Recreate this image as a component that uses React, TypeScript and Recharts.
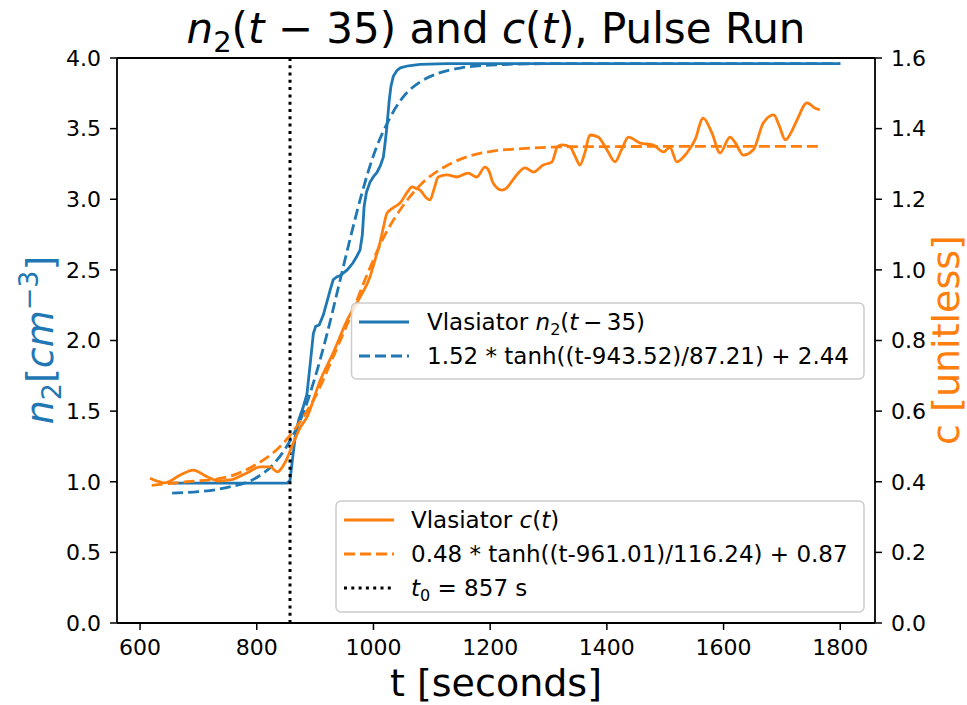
import React from "react";
import { ComposedChart, Line, XAxis, YAxis, ReferenceLine } from "recharts";

// Vlasiator n2(t-35), left axis [cm^-3]
const n2Times = [655, 700, 750, 800, 840, 852, 857, 861, 866, 872, 879, 886, 892, 897, 901, 907, 914, 920, 926, 931, 937, 943, 955, 965, 972, 977, 981, 984, 988, 994, 1000, 1006, 1012, 1017, 1020, 1023, 1027, 1030, 1034, 1040, 1046, 1060, 1080, 1126, 1200, 1300, 1400, 1500, 1600, 1700, 1800];
const n2Values = [0.99, 0.99, 0.99, 0.99, 0.99, 0.99, 1.01, 1.15, 1.32, 1.44, 1.52, 1.62, 1.85, 2.05, 2.1, 2.11, 2.18, 2.27, 2.36, 2.43, 2.45, 2.46, 2.5, 2.55, 2.6, 2.64, 2.75, 2.95, 3.05, 3.12, 3.16, 3.19, 3.24, 3.3, 3.4, 3.51, 3.7, 3.8, 3.87, 3.91, 3.93, 3.945, 3.955, 3.96, 3.96, 3.96, 3.96, 3.96, 3.96, 3.96, 3.96];

// fit curve for n2
const n2FitTimes = [655, 700, 750, 800, 830, 857, 880, 900, 920, 943, 960, 980, 1000, 1025, 1050, 1080, 1110, 1150, 1200, 1300, 1800];
const n2FitValues = [0.92, 0.93, 0.96, 1.03, 1.13, 1.29, 1.49, 1.74, 2.04, 2.43, 2.72, 3.04, 3.31, 3.55, 3.72, 3.83, 3.89, 3.93, 3.95, 3.96, 3.96];

// Vlasiator c(t), right axis [unitless]
const cTimes = [617, 643, 669, 691, 715, 734, 754, 783, 806, 823, 835, 849, 860, 874, 886, 909, 931, 955, 977, 994, 1003, 1011, 1017, 1023, 1033, 1046, 1058, 1066, 1074, 1080, 1090, 1097, 1104, 1111, 1126, 1143, 1162, 1177, 1191, 1198, 1205, 1220, 1230, 1239, 1260, 1274, 1291, 1306, 1315, 1323, 1337, 1346, 1354, 1362, 1371, 1385, 1400, 1414, 1425, 1437, 1457, 1479, 1497, 1508, 1520, 1537, 1551, 1565, 1580, 1594, 1611, 1620, 1634, 1651, 1668, 1686, 1695, 1706, 1716, 1726, 1743, 1757, 1765];
const cValues = [0.41, 0.397, 0.419, 0.433, 0.414, 0.402, 0.405, 0.425, 0.442, 0.442, 0.428, 0.456, 0.499, 0.552, 0.583, 0.688, 0.765, 0.858, 0.923, 0.98, 1.03, 1.076, 1.12, 1.16, 1.175, 1.19, 1.22, 1.235, 1.23, 1.226, 1.205, 1.198, 1.23, 1.263, 1.269, 1.263, 1.274, 1.263, 1.291, 1.28, 1.246, 1.226, 1.235, 1.255, 1.289, 1.277, 1.297, 1.306, 1.348, 1.354, 1.348, 1.32, 1.297, 1.33, 1.382, 1.376, 1.34, 1.306, 1.34, 1.376, 1.359, 1.354, 1.334, 1.347, 1.306, 1.331, 1.368, 1.43, 1.388, 1.331, 1.376, 1.36, 1.325, 1.34, 1.416, 1.439, 1.41, 1.368, 1.39, 1.425, 1.473, 1.458, 1.453];

// fit curve for c
const cFitTimes = [620, 680, 740, 800, 840, 870, 900, 930, 961, 990, 1020, 1050, 1080, 1120, 1160, 1200, 1260, 1350, 1765];
const cFitValues = [0.39, 0.4, 0.41, 0.45, 0.5, 0.56, 0.64, 0.75, 0.87, 0.99, 1.1, 1.18, 1.24, 1.29, 1.32, 1.335, 1.344, 1.349, 1.35];

const t0 = 857;
const xTicks = [600, 800, 1000, 1200, 1400, 1600, 1800];
const leftTicks = [0, 0.5, 1, 1.5, 2, 2.5, 3, 3.5, 4];
const rightTicks = [0, 0.2, 0.4, 0.6, 0.8, 1, 1.2, 1.4, 1.6];

const BLUE = "#1f77b4";
const ORANGE = "#ff7f0e";
const FONT = "DejaVu Sans, sans-serif";

const zip = (ts: number[], vs: number[]) => ts.map((t, i) => ({ t, v: vs[i] }));

const n2Data = zip(n2Times, n2Values);
const n2FitData = zip(n2FitTimes, n2FitValues);
const cData = zip(cTimes, cValues);
const cFitData = zip(cFitTimes, cFitValues);

const tickStyle = { fontSize: 22, fill: "#000", fontFamily: FONT };
const LW = 2.8;

function Overlay() {
  return (
    <svg width={967} height={705} style={{ position: "absolute", left: 0, top: 0, pointerEvents: "none" }} fontFamily={FONT}>
      {/* top spine */}
      <line x1={117} x2={875} y1={58} y2={58} stroke="#000" strokeWidth={1.8} />

      {/* title */}
      <text x={496} y={43} fontSize={42} textAnchor="middle" fill="#000">
        <tspan fontStyle="italic">n</tspan>
        <tspan fontSize={29} dy={9}>2</tspan>
        <tspan dy={-9}>(</tspan>
        <tspan fontStyle="italic">t</tspan>
        <tspan>{" \u2212 35) and "}</tspan>
        <tspan fontStyle="italic">c</tspan>
        <tspan>(</tspan>
        <tspan fontStyle="italic">t</tspan>
        <tspan>), Pulse Run</tspan>
      </text>

      {/* x label */}
      <text x={496} y={696} fontSize={38} textAnchor="middle" fill="#000">t [seconds]</text>

      {/* left label */}
      <text x={53} y={340} fontSize={38} textAnchor="middle" fill={BLUE} transform="rotate(-90 53 340)">
        <tspan fontStyle="italic">n</tspan>
        <tspan fontSize={27} dy={8}>2</tspan>
        <tspan dy={-8}>[</tspan>
        <tspan fontStyle="italic">cm</tspan>
        <tspan fontSize={27} dy={-15}>{"\u22123"}</tspan>
        <tspan dy={15}>]</tspan>
      </text>

      {/* right label */}
      <text x={959} y={340} fontSize={38} textAnchor="middle" fill={ORANGE} transform="rotate(-90 959 340)">
        c [unitless]
      </text>

      {/* legend 1 */}
      <rect x={351.5} y={303} width={512.5} height={76} rx={5} fill="#fff" fillOpacity={0.8} stroke="#cccccc" strokeWidth={1.5} />
      <line x1={359} x2={409} y1={322} y2={322} stroke={BLUE} strokeWidth={LW} />
      <line x1={359} x2={409} y1={356} y2={356} stroke={BLUE} strokeWidth={LW} strokeDasharray="11 5" />
      <text x={427} y={330} fontSize={23} fill="#000">
        <tspan>Vlasiator </tspan>
        <tspan fontStyle="italic">n</tspan>
        <tspan fontSize={16} dy={5}>2</tspan>
        <tspan dy={-5}>(</tspan>
        <tspan fontStyle="italic">t</tspan>
        <tspan>{"\u2009\u2212\u200935)"}</tspan>
      </text>
      <text x={427} y={364} fontSize={23} fill="#000">1.52 * tanh((t-943.52)/87.21) + 2.44</text>

      {/* legend 2 */}
      <rect x={336} y={501} width={528} height={111} rx={5} fill="#fff" fillOpacity={0.8} stroke="#cccccc" strokeWidth={1.5} />
      <line x1={344} x2={394} y1={520} y2={520} stroke={ORANGE} strokeWidth={LW} />
      <line x1={344} x2={394} y1={554} y2={554} stroke={ORANGE} strokeWidth={LW} strokeDasharray="11 5" />
      <line x1={344} x2={394} y1={588} y2={588} stroke="#000" strokeWidth={3} strokeDasharray="3 4.3" />
      <text x={411} y={528} fontSize={23} fill="#000">
        <tspan>Vlasiator </tspan>
        <tspan fontStyle="italic">c</tspan>
        <tspan>(</tspan>
        <tspan fontStyle="italic">t</tspan>
        <tspan>)</tspan>
      </text>
      <text x={411} y={562} fontSize={23} fill="#000">0.48 * tanh((t-961.01)/116.24) + 0.87</text>
      <text x={411} y={596} fontSize={23} fill="#000">
        <tspan fontStyle="italic">t</tspan>
        <tspan fontSize={16} dy={5}>0</tspan>
        <tspan dy={-5}>{" = 857 s"}</tspan>
      </text>
    </svg>
  );
}

export default function App() {
  return (
    <div style={{ position: "absolute", left: 0, top: 0, width: 967, height: 705, background: "#fff" }}>
      <ComposedChart width={967} height={705} margin={{ top: 58, right: 0, bottom: 0, left: 0 }}>
        <XAxis
          type="number"
          dataKey="t"
          domain={[560.5, 1859.5]}
          allowDataOverflow
          ticks={xTicks}
          height={82}
          tickSize={7}
          tickMargin={9}
          tick={tickStyle}
          axisLine={{ stroke: "#000", strokeWidth: 1.8 }}
          tickLine={{ stroke: "#000", strokeWidth: 1.5 }}
        />
        <YAxis
          yAxisId="left"
          orientation="left"
          domain={[0, 4]}
          ticks={leftTicks}
          width={117}
          tickSize={7}
          tickMargin={9}
          tick={tickStyle}
          tickFormatter={(v: number) => v.toFixed(1)}
          axisLine={{ stroke: "#000", strokeWidth: 1.8 }}
          tickLine={{ stroke: "#000", strokeWidth: 1.5 }}
        />
        <YAxis
          yAxisId="right"
          orientation="right"
          domain={[0, 1.6]}
          ticks={rightTicks}
          width={92}
          tickSize={7}
          tickMargin={9}
          tick={tickStyle}
          tickFormatter={(v: number) => v.toFixed(1)}
          axisLine={{ stroke: "#000", strokeWidth: 1.8 }}
          tickLine={{ stroke: "#000", strokeWidth: 1.5 }}
        />
        <Line yAxisId="left" data={n2Data} dataKey="v" type="linear" stroke={BLUE} strokeWidth={LW} dot={false} isAnimationActive={false} />
        <Line yAxisId="left" data={n2FitData} dataKey="v" type="monotone" stroke={BLUE} strokeWidth={LW} strokeDasharray="11 5" dot={false} isAnimationActive={false} />
        <ReferenceLine yAxisId="left" x={t0} stroke="#000" strokeWidth={3} strokeDasharray="3 4.3" />
        <Line yAxisId="right" data={cData} dataKey="v" type="monotone" stroke={ORANGE} strokeWidth={LW} dot={false} isAnimationActive={false} />
        <Line yAxisId="right" data={cFitData} dataKey="v" type="monotone" stroke={ORANGE} strokeWidth={LW} strokeDasharray="11 5" dot={false} isAnimationActive={false} />
      </ComposedChart>
      <Overlay />
    </div>
  );
}
